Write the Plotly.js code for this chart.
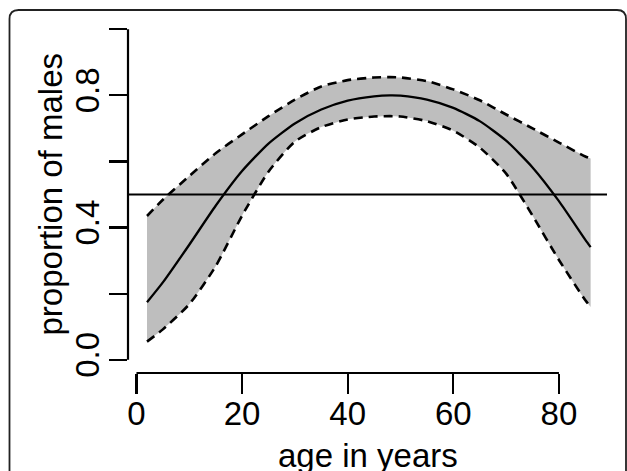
<!DOCTYPE html>
<html>
<head>
<meta charset="utf-8">
<script src="https://cdn.plot.ly/plotly-3.0.1.min.js"></script>
<style>html,body{margin:0;padding:0;background:#fff;}#chart{width:627px;height:471px;}</style>
</head>
<body>
<div id="chart"></div>
<script>
// Data
const ages  = [2, 5, 10, 15, 20, 25, 30, 35, 40, 45, 48, 50, 55, 60, 65, 70, 75, 80, 85, 86];
const fit   = [0.174, 0.234, 0.348, 0.466, 0.571, 0.654, 0.715, 0.757, 0.784, 0.797, 0.800, 0.799, 0.787, 0.762, 0.722, 0.663, 0.582, 0.480, 0.363, 0.341];
const upper = [0.435, 0.484, 0.556, 0.625, 0.682, 0.737, 0.787, 0.827, 0.846, 0.854, 0.855, 0.854, 0.843, 0.818, 0.785, 0.742, 0.700, 0.657, 0.615, 0.609];
const lower = [0.055, 0.092, 0.168, 0.283, 0.436, 0.569, 0.660, 0.704, 0.727, 0.736, 0.737, 0.736, 0.722, 0.693, 0.642, 0.563, 0.436, 0.302, 0.180, 0.160];
const refLevel = 0.5;
const xTicks = [0, 20, 40, 60, 80];
const yTicks = [0, 0.2, 0.4, 0.6, 0.8, 1.0];
const yTickText = ["0.0", "", "0.4", "", "0.8", ""];

const FONT = "Liberation Sans, Arial, Helvetica, sans-serif";
const SM = 0.6;

const traces = [
  {x: ages, y: lower, type: 'scatter', mode: 'lines',
   line: {width: 0, color: 'rgba(0,0,0,0)', shape: 'spline', smoothing: SM}, hoverinfo: 'skip'},
  {x: ages, y: upper, type: 'scatter', mode: 'lines', fill: 'tonexty',
   fillcolor: '#BEBEBE', line: {width: 0, color: 'rgba(0,0,0,0)', shape: 'spline', smoothing: SM}, hoverinfo: 'skip'},
  {x: ages, y: upper, type: 'scatter', mode: 'lines',
   line: {color: '#000', width: 2.6, dash: '9px,6px', shape: 'spline', smoothing: SM}},
  {x: ages, y: lower, type: 'scatter', mode: 'lines',
   line: {color: '#000', width: 2.6, dash: '9px,6px', shape: 'spline', smoothing: SM}},
  {x: ages, y: fit, type: 'scatter', mode: 'lines',
   line: {color: '#000', width: 2.3, shape: 'spline', smoothing: SM}}
];

// rounded frame in paper coordinates (plot area 128..607 px, 16..373 px)
function px(x) { return (x - 128) / 479; }
function py(y) { return (373 - y) / 357; }
const L = px(9.5), R = px(626), T = py(10), B = py(490);
const rx = 9 / 479, ry = 9 / 357;
const framePath = `M ${L + rx} ${T} L ${R - rx} ${T} Q ${R} ${T} ${R} ${T - ry} L ${R} ${B + ry} Q ${R} ${B} ${R - rx} ${B} L ${L + rx} ${B} Q ${L} ${B} ${L} ${B + ry} L ${L} ${T - ry} Q ${L} ${T} ${L + rx} ${T} Z`;

const layout = {
  width: 627, height: 471,
  margin: {l: 128, r: 20, t: 16, b: 98},
  paper_bgcolor: '#fff', plot_bgcolor: '#fff',
  showlegend: false,
  font: {family: FONT, size: 33, color: '#000'},
  xaxis: {
    range: [-1.6, 89.1], showgrid: false, zeroline: false, showline: false,
    tickvals: xTicks, ticktext: xTicks.map(String),
    ticks: 'outside', ticklen: 20, tickwidth: 2.2, tickcolor: '#000',
    ticklabelstandoff: -9,
    tickfont: {family: FONT, size: 33, color: '#000'}
  },
  yaxis: {
    range: [-0.04, 1.04], showgrid: false, zeroline: false, showline: false,
    tickvals: yTicks, ticktext: yTickText, tickangle: -90,
    ticks: 'outside', ticklen: 18, tickwidth: 2.2, tickcolor: '#000',
    ticklabelstandoff: -3,
    tickfont: {family: FONT, size: 33, color: '#000'}
  },
  shapes: [
    {type: 'line', xref: 'paper', yref: 'y', x0: 0, x1: 1, y0: refLevel, y1: refLevel,
     line: {color: '#000', width: 2.2}},
    {type: 'line', xref: 'x', yref: 'paper', x0: xTicks[0], x1: xTicks[xTicks.length - 1], y0: 0, y1: 0,
     line: {color: '#000', width: 2.2}},
    {type: 'line', xref: 'paper', yref: 'y', x0: 0, x1: 0, y0: yTicks[0], y1: yTicks[yTicks.length - 1],
     line: {color: '#000', width: 2.2}},
    {type: 'path', xref: 'paper', yref: 'paper', path: framePath,
     line: {color: '#222', width: 1.8}}
  ],
  annotations: [
    {text: 'age in years', xref: 'paper', yref: 'paper', x: 0.5, y: py(455),
     xanchor: 'center', yanchor: 'middle', showarrow: false,
     font: {family: FONT, size: 33, color: '#000'}},
    {text: 'proportion of males', xref: 'paper', yref: 'paper', x: px(50), y: 0.5,
     xanchor: 'center', yanchor: 'middle', showarrow: false, textangle: -90,
     font: {family: FONT, size: 33, color: '#000'}}
  ]
};

Plotly.newPlot('chart', traces, layout, {displayModeBar: false, staticPlot: true});
</script>
</body>
</html>
